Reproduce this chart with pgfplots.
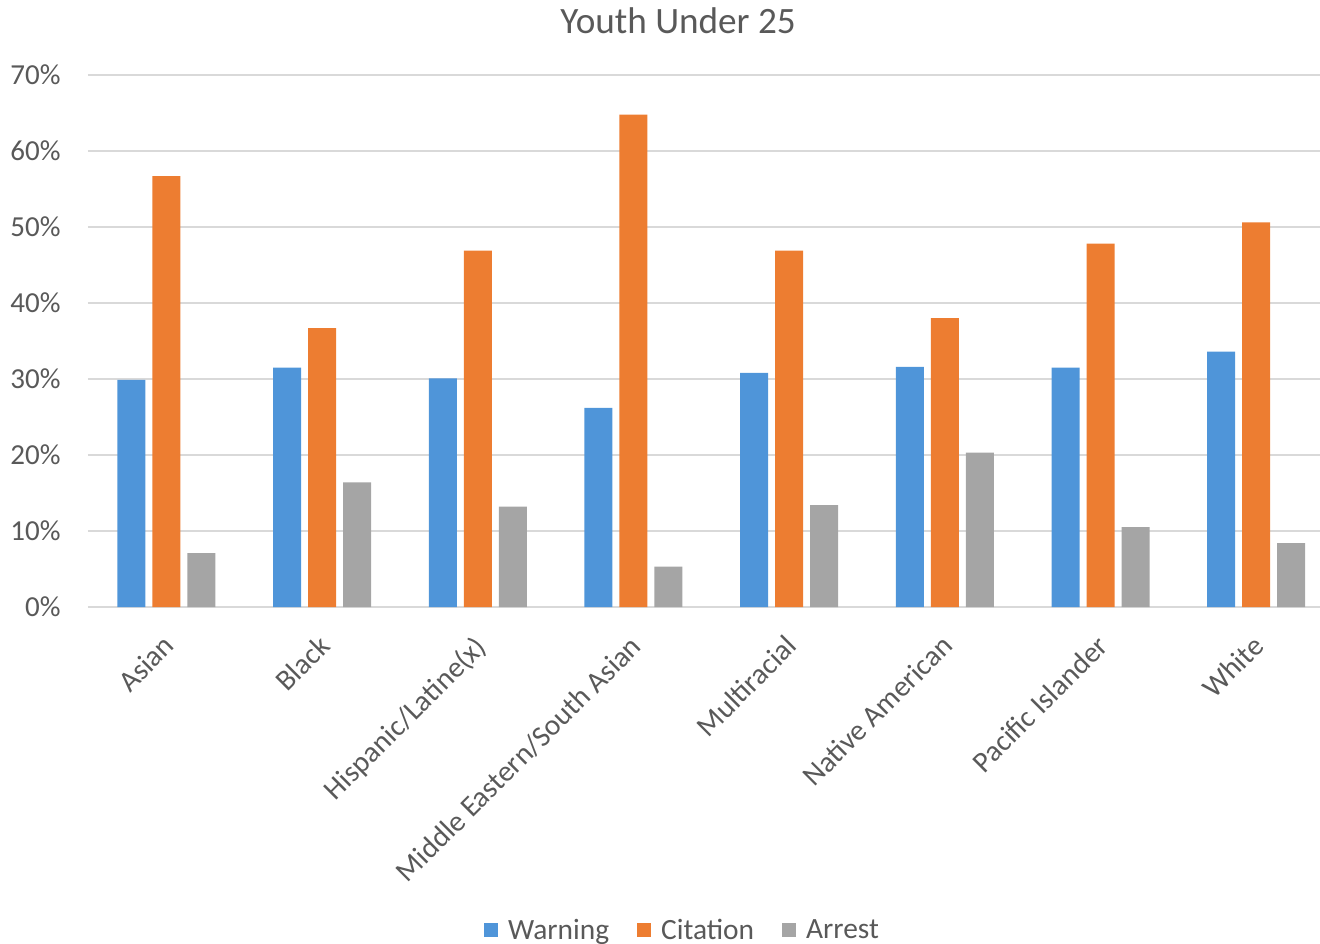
\documentclass[border=0pt]{standalone}
\usepackage{pgfplots}
\pgfplotsset{compat=1.18}
\usepackage{fontspec}
\setmainfont{Carlito}
\definecolor{cblue}{HTML}{4F95D9}
\definecolor{corange}{HTML}{ED7D31}
\definecolor{cgray}{HTML}{A5A5A5}
\definecolor{ctext}{HTML}{595959}
\definecolor{cgrid}{HTML}{D9D9D9}
\begin{document}
\begin{tikzpicture}
\useasboundingbox (-44pt,-168pt) rectangle (616pt,303.5pt);
\begin{axis}[
  at={(0,0)}, anchor=south west,
  scale only axis, width=616pt, height=266pt,
  xmin=-0.504, xmax=7.41, ymin=0, ymax=70,
  ybar=3.5pt, bar width=14pt,
  axis line style={draw=none},
  major tick length=0pt,
  ytick={0,10,20,30,40,50,60,70},
  yticklabels={0\%,10\%,20\%,30\%,40\%,50\%,60\%,70\%},
  ymajorgrids, grid style={cgrid, line width=0.75pt},
  xtick={0,1,2,3,4,5,6,7},
  xticklabels={Asian,Black,Hispanic/Latine(x),Middle Eastern/South Asian,Multiracial,Native American,Pacific Islander,White},
  xticklabel style={rotate=45, anchor=north east, inner sep=0pt, xshift=-11pt, yshift=-7.5pt, font=\fontsize{14.7}{16}\selectfont, text=ctext},
  yticklabel style={anchor=east, inner sep=0pt, xshift=-13.5pt, font=\fontsize{14.5}{16}\selectfont, text=ctext},
  legend columns=3,
  legend style={at={(axis description cs:0.4834,-0.608)}, anchor=center, draw=none, fill=none,
    font=\fontsize{14.7}{16}\selectfont, text=ctext,
    /tikz/every even column/.append style={column sep=12pt},
    /tikz/every odd column/.append style={column sep=3pt}},
  legend image code/.code={\fill[#1] (0pt,-3.5pt) rectangle (7pt,3.5pt);},
  clip=false,
]
\draw[cgrid, line width=0.75pt] (axis cs:-0.504,0) -- (axis cs:7.41,0);
\addplot[fill=cblue, draw=none] coordinates {(0,29.9) (1,31.5) (2,30.1) (3,26.2) (4,30.8) (5,31.6) (6,31.5) (7,33.6)};
\addplot[fill=corange, draw=none] coordinates {(0,56.7) (1,36.7) (2,46.9) (3,64.8) (4,46.9) (5,38.0) (6,47.8) (7,50.6)};
\addplot[fill=cgray, draw=none] coordinates {(0,7.1) (1,16.4) (2,13.2) (3,5.3) (4,13.4) (5,20.3) (6,10.5) (7,8.4)};
\legend{Warning,Citation,Arrest}
\node[text=ctext, font=\fontsize{18.6}{20}\selectfont] at (axis description cs:0.479,1.103) {Youth Under 25};
\end{axis}
\end{tikzpicture}
\end{document}
